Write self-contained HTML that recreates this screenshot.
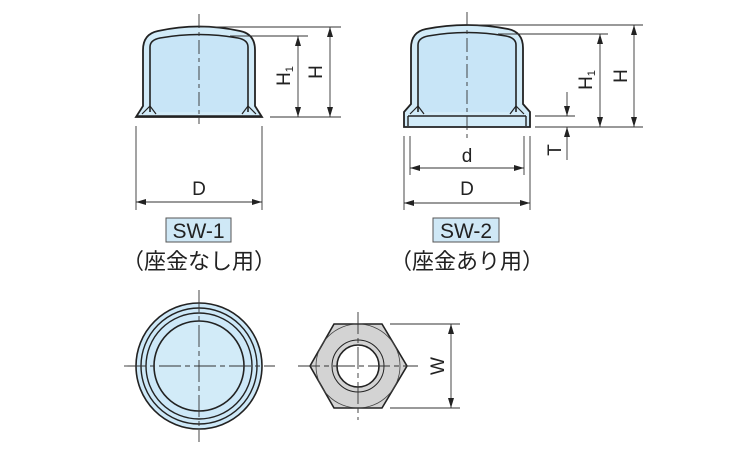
<!DOCTYPE html>
<html><head><meta charset="utf-8"><style>
body{margin:0;background:#fff}
svg{display:block}
text{font-family:"Liberation Sans","Noto Sans CJK JP",sans-serif;fill:#222}
</style></head><body>
<svg width="750" height="450" viewBox="0 0 750 450" xmlns="http://www.w3.org/2000/svg">
<defs>
<marker id="a" viewBox="0 0 10 6" refX="10" refY="3" markerWidth="10" markerHeight="6" orient="auto-start-reverse" markerUnits="userSpaceOnUse"><path d="M0,0 L10,3 L0,6 z" fill="#222"/></marker>
</defs>
<g stroke="#333" stroke-width="0.9" fill="none">
<!-- left cap -->
<path d="M136,117 L143,106 L143,50 Q143,34 158,31 Q199,22 240,31 Q255,34 255,50 L255,106 L262,117 Z" fill="#d2ebf8" stroke="#222" stroke-width="1.8"/>
<path d="M150,112 L150,47 Q150,40 160,38 Q199,31 238,38 Q248,40 248,47 L248,112" fill="#c8e5f7" stroke="#222" stroke-width="1.6"/>
<path d="M137,116 L261,116" stroke="#222" stroke-width="1.6"/>
<path d="M142,114 L150,106 L156,114 M256,114 L248,106 L242,114" stroke="#222" stroke-width="1.2"/>
<line x1="199" y1="14" x2="199" y2="124" stroke-dasharray="14,4,4,4"/>
<line x1="199" y1="27" x2="341" y2="27"/>
<line x1="230" y1="36" x2="308" y2="36"/>
<line x1="270" y1="117" x2="341" y2="117"/>
<line x1="330" y1="27" x2="330" y2="117" marker-start="url(#a)" marker-end="url(#a)"/>
<line x1="298" y1="36" x2="298" y2="117" marker-start="url(#a)" marker-end="url(#a)"/>
<line x1="136" y1="126" x2="136" y2="210"/>
<line x1="262" y1="126" x2="262" y2="210"/>
<line x1="136" y1="202" x2="262" y2="202" marker-start="url(#a)" marker-end="url(#a)"/>
<!-- right cap -->
<path d="M404,127 L404,112 L411,104 L411,48 Q411,32 426,29 Q467,21 508,29 Q523,32 523,48 L523,104 L530,112 L530,127 Z" fill="#d2ebf8" stroke="#222" stroke-width="1.8"/>
<path d="M418,112 L418,45 Q418,38 428,36 Q467,29 506,36 Q516,38 516,45 L516,112" fill="#c8e5f7" stroke="#222" stroke-width="1.6"/>
<path d="M408,116 L526,116 M408,116 L408,126 M526,116 L526,126" stroke="#222" stroke-width="1.4"/>
<path d="M410,114 L418,106 L424,114 M524,114 L516,106 L510,114" stroke="#222" stroke-width="1.2"/>
<line x1="467" y1="12" x2="467" y2="140" stroke-dasharray="14,4,4,4"/>
<line x1="467" y1="25" x2="643" y2="25"/>
<line x1="498" y1="34" x2="608" y2="34"/>
<line x1="535" y1="116" x2="575" y2="116"/>
<line x1="535" y1="127" x2="643" y2="127"/>
<line x1="634" y1="25" x2="634" y2="127" marker-start="url(#a)" marker-end="url(#a)"/>
<line x1="600" y1="34" x2="600" y2="127" marker-start="url(#a)" marker-end="url(#a)"/>
<line x1="567" y1="92" x2="567" y2="116" marker-end="url(#a)"/>
<line x1="567" y1="160" x2="567" y2="127" marker-end="url(#a)"/>
<line x1="404" y1="136" x2="404" y2="210"/>
<line x1="530" y1="136" x2="530" y2="210"/>
<line x1="410" y1="136" x2="410" y2="175"/>
<line x1="524" y1="136" x2="524" y2="175"/>
<line x1="410" y1="168" x2="524" y2="168" marker-start="url(#a)" marker-end="url(#a)"/>
<line x1="404" y1="203" x2="530" y2="203" marker-start="url(#a)" marker-end="url(#a)"/>
<!-- circle view -->
<circle cx="199" cy="366" r="63" fill="#cde8f8" stroke="#222" stroke-width="1.6"/>
<circle cx="199" cy="366" r="58" stroke="#222" stroke-width="1.4"/>
<circle cx="199" cy="366" r="53" stroke="#222" stroke-width="1.4"/>
<circle cx="199" cy="366" r="45" fill="#d2ebf8" stroke="#222" stroke-width="1.6"/>
<line x1="124" y1="366" x2="275" y2="366" stroke-dasharray="22,4,5,4"/>
<line x1="199" y1="290" x2="199" y2="442" stroke-dasharray="22,4,5,4"/>
<!-- hex -->
<polygon points="334,324 382,324 407,366 382,408 334,408 310,366" fill="#d3d3d3" stroke="#222" stroke-width="1.6"/>
<circle cx="358" cy="366" r="42" stroke="#444" stroke-width="0.8"/>
<circle cx="358" cy="366" r="26" fill="#d3d3d3" stroke="#222" stroke-width="1"/>
<circle cx="358" cy="366" r="21" fill="#fff" stroke="#222" stroke-width="1.6"/>
<line x1="298" y1="366" x2="418" y2="366" stroke-dasharray="22,4,5,4"/>
<line x1="358" y1="312" x2="358" y2="420" stroke-dasharray="22,4,5,4"/>
<line x1="390" y1="324" x2="460" y2="324"/>
<line x1="390" y1="408" x2="460" y2="408"/>
<line x1="451" y1="324" x2="451" y2="408" marker-start="url(#a)" marker-end="url(#a)"/>
</g>
<g font-size="19">
<text x="199" y="195" text-anchor="middle">D</text>
<text x="467" y="162" text-anchor="middle">d</text>
<text x="467" y="195" text-anchor="middle">D</text>
<text transform="translate(322,72) rotate(-90)" text-anchor="middle">H</text>
<text transform="translate(290,76) rotate(-90)" text-anchor="middle">H<tspan font-size="11" dy="3">1</tspan></text>
<text transform="translate(627,76) rotate(-90)" text-anchor="middle">H</text>
<text transform="translate(592,80) rotate(-90)" text-anchor="middle">H<tspan font-size="11" dy="3">1</tspan></text>
<text transform="translate(561,150) rotate(-90)" text-anchor="middle">T</text>
<text transform="translate(444,366) rotate(-90)" text-anchor="middle">W</text>
</g>
<rect x="166" y="218" width="65" height="24" fill="#cfe8f6" stroke="#555" stroke-width="1"/>
<rect x="433" y="218" width="66" height="24" fill="#cfe8f6" stroke="#555" stroke-width="1"/>
<text x="198.5" y="238" font-size="21" text-anchor="middle">SW-1</text>
<text x="466" y="238" font-size="21" text-anchor="middle">SW-2</text>
<text x="199" y="269" font-size="22" text-anchor="middle">（座金なし用）</text>
<text x="467" y="269" font-size="22" text-anchor="middle">（座金あり用）</text>
</svg>
</body></html>
